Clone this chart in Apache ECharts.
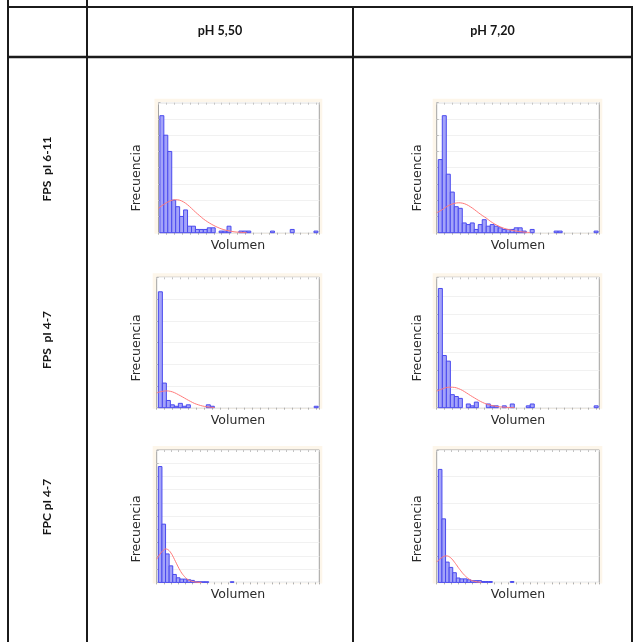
<!DOCTYPE html>
<html>
<head>
<meta charset="utf-8">
<script src="https://cdn.jsdelivr.net/npm/echarts@6/dist/echarts.min.js"></script>
<style>
  html, body { margin: 0; padding: 0; background: #ffffff; }
  #chart { width: 642px; height: 642px; }
</style>
</head>
<body>
<div id="chart"></div>
<script>
// Table headers
const columnHeaders = ['pH 5,50', 'pH 7,20'];
const rowHeaders = ['FPS  pI 6-11', 'FPS  pI 4-7', 'FPC pI 4-7'];
const xAxisTitle = 'Volumen';
const yAxisTitle = 'Frecuencia';

// Histogram counts per bin (bin i covers [i, i+1] in bin units)
const countsFps611Ph55 = [72, 60, 50, 20, 16, 10, 14, 4, 4, 2, 2, 2, 3, 3, 0, 1, 1, 4, 0, 0,
                          1, 1, 1, 0, 0, 0, 0, 0, 1, 0, 0, 0, 0, 2, 0, 0, 0, 0, 0, 1];
const countsFps611Ph72 = [45, 72, 36, 25, 16, 15, 6, 5, 6, 2, 5, 8, 4, 5, 4, 3, 2, 2, 2, 3,
                          3, 1, 0, 2, 0, 0, 0, 0, 0, 1, 1, 0, 0, 0, 0, 0, 0, 0, 0, 1];
const countsFps47Ph55  = [80, 17, 5, 2, 1, 3, 1, 2, 0, 0, 0, 0, 2, 1, 0, 0, 0, 0, 0, 0,
                          0, 0, 0, 0, 0, 0, 0, 0, 0, 0, 0, 0, 0, 0, 0, 0, 0, 0, 0, 1];
const countsFps47Ph72  = [64, 28, 25, 7, 6, 5, 0, 2, 1, 3, 0, 0, 2, 1, 1, 0, 1, 0, 2, 0,
                          0, 0, 1, 2, 0, 0, 0, 0, 0, 0, 0, 0, 0, 0, 0, 0, 0, 0, 0, 1];
const countsFpc47Ph55  = [175, 88, 43, 25, 12, 7, 5, 5, 4, 3, 1, 1, 1, 1, 0, 0, 0, 0, 0, 0, 1];
const countsFpc47Ph72  = [128, 72, 23, 17, 11, 5, 4, 4, 3, 2, 2, 2, 1, 1, 1, 0, 0, 0, 0, 0, 1];

// Fitted normal curves, [position in bin units, frequency]
const fitFps611Ph55 = [[-0.4, 14.8], [0, 15.8], [1, 17.4], [2, 18.9], [3, 19.9], [4, 20.3], [5, 20.0],
  [6, 18.9], [7, 17.2], [8, 15.0], [9, 12.7], [10, 10.6], [11, 8.5], [12, 6.8], [13, 5.3], [14, 4.0],
  [15, 2.9], [16, 2.0], [17, 1.4], [18, 0.9], [19, 0.5], [20, 0.3], [21, 0.15], [22, 0.05]];
const fitFps611Ph72 = [[-0.4, 12.2], [0, 12.8], [1, 14.2], [2, 15.9], [3, 17.2], [4, 18.0], [5, 18.4],
  [6, 18.2], [7, 17.4], [8, 16.0], [9, 14.3], [10, 12.4], [11, 10.6], [12, 9.0], [13, 7.1], [14, 5.5],
  [15, 4.2], [16, 3.1], [17, 2.3], [18, 1.7], [19, 1.2], [20, 0.8], [21, 0.5], [22, 0.25], [23, 0.1]];
const fitFps47Ph55 = [[-0.4, 10.2], [0, 10.6], [1, 11.3], [2, 11.6], [3, 11.3], [4, 10.4], [5, 9.0],
  [6, 7.5], [7, 5.9], [8, 4.4], [9, 3.0], [10, 2.0], [11, 1.2], [12, 0.7], [13, 0.3], [14, 0.1]];
const fitFps47Ph72 = [[-0.4, 8.9], [0, 9.3], [1, 10.1], [2, 10.8], [3, 11.0], [4, 10.9], [5, 10.3],
  [6, 9.3], [7, 8.0], [8, 6.6], [9, 5.3], [10, 4.0], [11, 2.9], [12, 2.0], [13, 1.4], [14, 0.9],
  [15, 0.55], [16, 0.35], [17, 0.2], [18, 0.1], [19, 0.05]];
const fitFpc47Ph55 = [[-0.45, 35], [0, 39], [0.5, 43], [1, 46.5], [1.5, 49], [2, 50.5], [2.5, 50],
  [3, 48], [3.5, 44.5], [4, 40], [4.5, 34.5], [5, 29], [5.5, 23.5], [6, 18.5], [6.5, 14], [7, 10.5],
  [7.5, 7.5], [8, 5], [8.5, 3.4], [9, 2.2], [10, 0.8], [11, 0.2], [12, 0]];
const fitFpc47Ph72 = [[-0.45, 23], [0, 25], [0.5, 26.7], [1, 28.2], [1.5, 29.4], [2, 30], [2.5, 30],
  [3, 29.1], [3.5, 27.6], [4, 25.5], [4.5, 22.8], [5, 20.1], [5.5, 17.1], [6, 14.4], [6.5, 11.7],
  [7, 9.3], [7.5, 7.2], [8, 5.4], [8.5, 3.9], [9, 2.7], [10, 1.2], [11, 0.45], [12, 0.15]];

// Axis extents: y maximum and gridline step, x extent in bin units
const yMaxes = [80, 80, 90, 70, 200, 150];
const yIntervals = [10, 10, 15, 10, 20, 30];
const xMaxes = [40.7, 40.7, 40.7, 40.7, 45.2, 45.2];
const firstBinEdges = [0.35, 0.4, 0.42, 0.42, 0.46, 0.46];

const panelCounts = [countsFps611Ph55, countsFps611Ph72, countsFps47Ph55, countsFps47Ph72, countsFpc47Ph55, countsFpc47Ph72];
const panelFits = [fitFps611Ph55, fitFps611Ph72, fitFps47Ph55, fitFps47Ph72, fitFpc47Ph55, fitFpc47Ph72];

// Layout of each small plot frame (pixels)
const frames = [
  { left: 158.5, top: 102.7, width: 160.8, height: 130 },
  { left: 436.7, top: 102.7, width: 162.6, height: 130 },
  { left: 156.7, top: 277.3, width: 162.6, height: 130.4 },
  { left: 436.7, top: 277.3, width: 162.6, height: 130.4 },
  { left: 156.7, top: 450, width: 162.6, height: 132.4 },
  { left: 436.7, top: 450, width: 162.6, height: 132.4 }
];
const yTitleCenters = [[137, 178], [417.5, 178], [137, 348], [417.5, 348], [137, 529], [417.5, 529]];
const xTitleCenters = [[238, 246], [518, 246], [238, 420.5], [518, 420.5], [238, 594.5], [518, 594.5]];

const BAR_FILL = '#a3a3f9';
const BAR_EDGE = '#4a4aee';
const FIT_COLOR = '#ff7a7a';
const FRAME_COLOR = '#a2a2a2';
const INK = '#1b1b1b';

const chart = echarts.init(document.getElementById('chart'), null, { renderer: 'canvas' });

const grid = [], xAxis = [], yAxis = [], series = [], graphic = [];

frames.forEach(function (f, k) {
  grid.push({
    left: f.left, top: f.top, width: f.width, height: f.height,
    show: true, borderColor: FRAME_COLOR, borderWidth: 1, backgroundColor: '#ffffff'
  });
  // bottom axis: small outward ticks
  xAxis.push({
    type: 'value', gridIndex: k, min: 0, max: xMaxes[k], interval: 2, position: 'bottom',
    axisLine: { show: false }, axisLabel: { show: false }, splitLine: { show: false },
    axisTick: { show: true, inside: false, length: 2, lineStyle: { color: '#b0b0b0', width: 1 } }
  });
  // top axis: small inward ticks
  xAxis.push({
    type: 'value', gridIndex: k, min: 0, max: xMaxes[k], interval: 2, position: 'top',
    axisLine: { show: false }, axisLabel: { show: false }, splitLine: { show: false },
    axisTick: { show: true, inside: true, length: 2, lineStyle: { color: '#c4c4c4', width: 1 } }
  });
  yAxis.push({
    type: 'value', gridIndex: k, min: 0, max: yMaxes[k], interval: yIntervals[k],
    axisLine: { show: false }, axisLabel: { show: false },
    axisTick: { show: true, inside: true, length: 2, lineStyle: { color: '#b8b8b8', width: 1 } },
    splitLine: { show: true, lineStyle: { color: '#f1f1f1', width: 1 } }
  });

  const edge = firstBinEdges[k];
  const barData = [];
  panelCounts[k].forEach(function (c, i) { if (c > 0) barData.push([i, c]); });

  series.push({
    type: 'custom', xAxisIndex: 2 * k, yAxisIndex: k, z: 2, silent: true,
    data: barData,
    renderItem: function (params, api) {
      const i = api.value(0);
      const c = api.value(1);
      const topLeft = api.coord([edge + i, c]);
      const bottomRight = api.coord([edge + i + 1, 0]);
      return {
        type: 'rect',
        shape: { x: topLeft[0], y: topLeft[1], width: bottomRight[0] - topLeft[0], height: bottomRight[1] - topLeft[1] },
        style: { fill: BAR_FILL, stroke: BAR_EDGE, lineWidth: 1 }
      };
    }
  });

  series.push({
    type: 'line', xAxisIndex: 2 * k, yAxisIndex: k, z: 3, silent: true,
    smooth: 0.4, showSymbol: false,
    lineStyle: { color: FIT_COLOR, width: 1 },
    data: panelFits[k].map(function (p) { return [edge + p[0], p[1]]; })
  });

  // warm backdrop around each plot frame
  graphic.push({
    type: 'rect', z: -10, silent: true,
    shape: { x: f.left - 4, y: f.top - 4, width: f.width + 7, height: f.height + 5 },
    style: { fill: '#fdf6ea' }
  });

  graphic.push({
    type: 'text', silent: true, x: yTitleCenters[k][0], y: yTitleCenters[k][1], rotation: Math.PI / 2,
    style: { text: yAxisTitle, x: 0, y: 0, align: 'center', verticalAlign: 'middle',
             font: '12.5px "DejaVu Sans"', fill: '#2a2a2a' }
  });
  graphic.push({
    type: 'text', silent: true, x: xTitleCenters[k][0], y: xTitleCenters[k][1],
    style: { text: xAxisTitle, x: 0, y: 0, align: 'center', verticalAlign: 'middle',
             font: '12.5px "DejaVu Sans"', fill: '#2a2a2a' }
  });
});

// table rules
function rule(x1, y1, x2, y2, w) {
  return { type: 'line', silent: true, z: 50,
    shape: { x1: x1, y1: y1, x2: x2, y2: y2 },
    style: { stroke: INK, lineWidth: w || 2 } };
}
graphic.push(rule(8, 0, 8, 642));
graphic.push(rule(87, 0, 87, 642));
graphic.push(rule(353, 7, 353, 642));
graphic.push(rule(632, 7, 632, 642));
graphic.push(rule(7, 7, 633, 7));
graphic.push(rule(7, 57, 633, 57, 2.5));

// column headers
const headerCenters = [220, 492.5];
columnHeaders.forEach(function (t, j) {
  graphic.push({
    type: 'text', silent: true, x: headerCenters[j], y: 31,
    style: { text: t, x: 0, y: 0, align: 'center', verticalAlign: 'middle',
             font: 'bold 12.5px Lato', fill: '#151515' }
  });
});
// row headers
const rowCenters = [169, 340, 507];
rowHeaders.forEach(function (t, j) {
  graphic.push({
    type: 'text', silent: true, x: 47, y: rowCenters[j], rotation: Math.PI / 2,
    style: { text: t, x: 0, y: 0, align: 'center', verticalAlign: 'middle',
             font: 'bold 12px Lato', fill: '#151515' }
  });
});

chart.setOption({
  animation: false,
  backgroundColor: '#ffffff',
  grid: grid,
  xAxis: xAxis,
  yAxis: yAxis,
  series: series,
  graphic: graphic
});
</script>
</body>
</html>
